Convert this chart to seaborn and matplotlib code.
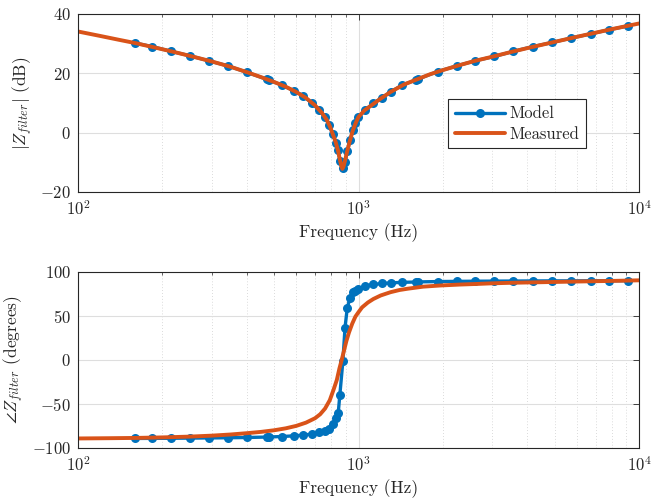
import numpy as np
import pandas as pd
import matplotlib
matplotlib.use("Agg")
import matplotlib.pyplot as plt
from matplotlib.ticker import LogLocator, NullFormatter, FixedLocator
import seaborn as sns

# Model: frequency grid (Hz), magnitude (dB), phase (deg)
model_freq = [160, 184, 215, 251, 293, 343, 401, 471, 478, 534, 589, 636, 681,
              725, 760, 786, 810, 833, 847, 858, 880, 895, 912, 933, 955, 975,
              998, 1055, 1130, 1213, 1305, 1429, 1603, 1633, 1916, 2240, 2600,
              3050, 3565, 4180, 4910, 5740, 6730, 7830, 9160]
model_mag = [30.2, 29.0, 27.4, 25.9, 24.2, 22.5, 20.3, 18.0, 17.8, 16.0, 14.1,
             12.4, 10.0, 7.6, 5.2, 2.6, -0.6, -3.6, -6.0, -9.5, -12.0, -10.0,
             -6.2, -2.5, 0.9, 3.3, 5.2, 7.6, 9.9, 11.8, 13.8, 16.0, 17.8, 18.1,
             20.6, 22.5, 24.2, 25.7, 27.4, 29.0, 30.4, 31.9, 33.3, 34.7, 36.0]
model_phase = [-89.5, -89.4, -89.3, -89.1, -88.9, -88.7, -88.4, -87.9, -87.8,
               -87.3, -86.5, -85.7, -84.5, -82.6, -80.5, -79.0, -73.0, -66.0,
               -60.0, -40.0, -1.0, 36.0, 59.0, 70.0, 77.0, 78.5, 80.5, 83.5,
               85.5, 86.6, 87.3, 87.9, 88.3, 88.4, 88.8, 89.0, 89.2, 89.3, 89.4,
               89.5, 89.6, 89.6, 89.7, 89.7, 89.8]

# Measured magnitude
meas_mag_freq = [100, 120, 140, 160, 190, 220, 260, 300, 350, 400, 450, 500, 550,
                 600, 650, 700, 740, 770, 790, 810, 830, 845, 858, 868, 876, 884,
                 895, 910, 930, 955, 980, 1000, 1050, 1100, 1200, 1300, 1450,
                 1600, 1800, 2000, 2300, 2600, 3000, 3500, 4000, 5000, 6000,
                 7000, 8000, 9000, 10000]
meas_mag = [34.1, 32.6, 31.3, 30.2, 28.6, 27.2, 25.5, 24.0, 22.2, 20.4, 18.7,
            17.1, 15.5, 13.7, 11.7, 9.2, 6.7, 4.4, 2.2, -0.5, -3.3, -6.0, -9.0,
            -11.2, -12.2, -11.5, -9.5, -6.5, -3.0, 0.8, 3.5, 5.3, 7.5, 8.9,
            11.5, 13.7, 16.2, 17.8, 19.7, 21.1, 22.8, 24.2, 25.6, 27.2, 28.5,
            30.6, 32.3, 33.7, 34.9, 35.9, 36.8]

# Measured phase
meas_ph_freq = [100, 130, 160, 200, 250, 300, 350, 400, 450, 500, 550, 600, 650,
                700, 730, 760, 790, 815, 837, 855, 870, 885, 905, 925, 950, 975,
                1000, 1030, 1080, 1130, 1200, 1300, 1400, 1500, 1700, 1950, 2300,
                2600, 3000, 3500, 4400, 5500, 7000, 8500, 10000]
meas_phase = [-89.5, -89.2, -88.9, -88.3, -87.4, -86.3, -85.0, -83.5, -82.0,
              -80.2, -78.0, -75.2, -71.5, -66.5, -62.0, -55.5, -46.0, -34.0,
              -23.0, -10.0, -1.0, 8.5, 21.0, 31.0, 41.0, 49.0, 54.0, 59.5, 65.0,
              69.0, 73.0, 76.7, 79.2, 80.7, 83.0, 84.3, 85.4, 86.0, 86.8, 87.4,
              88.0, 88.6, 89.2, 89.7, 90.2]

mag_yticks = [-20, 0, 20, 40]
phase_yticks = [-100, -50, 0, 50, 100]

model_df = pd.DataFrame({"f": model_freq, "mag": model_mag, "phase": model_phase})
meas_mag_df = pd.DataFrame({"f": meas_mag_freq, "mag": meas_mag})
meas_ph_df = pd.DataFrame({"f": meas_ph_freq, "phase": meas_phase})

sns.set_theme(style="white")
plt.rcParams.update({
    "font.family": "serif",
    "font.serif": ["cmr10"],
    "mathtext.fontset": "cm",
    "axes.formatter.use_mathtext": True,
    "axes.unicode_minus": False,
    "font.size": 11,
})

BLUE = "#0072BD"
ORANGE = "#D95319"

fig = plt.figure(figsize=(6.64, 5.04), dpi=100)
ax1 = fig.add_axes([78 / 664, 1 - 192 / 504, 561 / 664, 178 / 504])
ax2 = fig.add_axes([78 / 664, 1 - 447.7 / 504, 561 / 664, 176 / 504])


def style_axes(ax, yticks, ylabel):
    ax.set_xscale("log")
    ax.set_xlim(100, 10000)
    ax.set_ylim(yticks[0], yticks[-1])
    ax.yaxis.set_major_locator(FixedLocator(yticks))
    ax.xaxis.set_major_locator(LogLocator(base=10, numticks=10))
    ax.xaxis.set_minor_locator(LogLocator(base=10, subs=np.arange(2, 10), numticks=20))
    ax.xaxis.set_minor_formatter(NullFormatter())
    ax.grid(True, which="major", color="#dedede", linewidth=0.8, linestyle="-")
    ax.grid(True, which="minor", axis="x", color="#cfcfcf", linewidth=0.6,
            linestyle=(0, (1, 2.5)))
    ax.set_axisbelow(True)
    ax.tick_params(which="both", direction="in", top=True, right=True,
                   colors="#262626", labelcolor="#262626", labelsize=12)
    ax.tick_params(which="major", length=4, width=0.6, pad=5)
    ax.tick_params(which="minor", length=2, width=0.5)
    for s in ax.spines.values():
        s.set_color("#262626")
        s.set_linewidth(0.8)
    ax.set_xlabel("Frequency (Hz)", fontsize=12.5, color="#262626", labelpad=4)
    ax.set_ylabel(ylabel, fontsize=12.5, color="#262626", labelpad=4)


sns.lineplot(data=model_df, x="f", y="mag", ax=ax1, color=BLUE, linewidth=2.4,
             marker="o", markersize=6.5, markeredgewidth=0, label="Model",
             sort=False, estimator=None)
sns.lineplot(data=meas_mag_df, x="f", y="mag", ax=ax1, color=ORANGE,
             linewidth=2.8, label="Measured", sort=False, estimator=None)

sns.lineplot(data=model_df, x="f", y="phase", ax=ax2, color=BLUE, linewidth=2.4,
             marker="o", markersize=6.5, markeredgewidth=0, legend=False,
             sort=False, estimator=None)
sns.lineplot(data=meas_ph_df, x="f", y="phase", ax=ax2, color=ORANGE,
             linewidth=2.8, legend=False, sort=False, estimator=None)

style_axes(ax1, mag_yticks, r"$|Z_{filter}|$ (dB)")
style_axes(ax2, phase_yticks, r"$\angle Z_{filter}$ (degrees)")

leg = ax1.legend(loc="upper left", bbox_to_anchor=(0.66, 0.52), fontsize=12,
                 frameon=True, fancybox=False, framealpha=1, edgecolor="#262626",
                 borderpad=0.4, handlelength=3.0, labelspacing=0.3,
                 handletextpad=0.3, borderaxespad=0)
leg.get_frame().set_linewidth(0.8)

fig.savefig("out.png", dpi=100)
